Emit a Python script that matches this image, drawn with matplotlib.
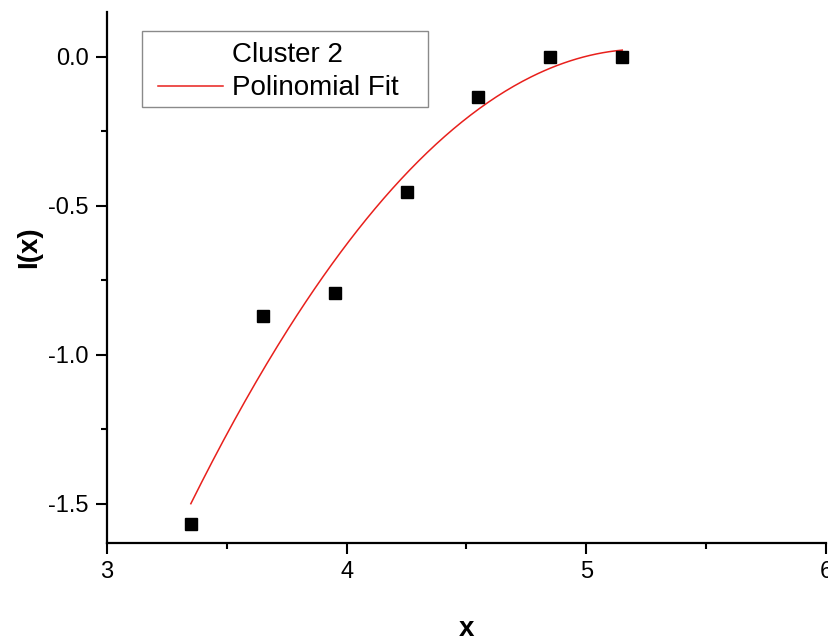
import numpy as np
import matplotlib
matplotlib.use("Agg")
import matplotlib.pyplot as plt
from matplotlib.ticker import MultipleLocator
from matplotlib.patches import Rectangle
from matplotlib.lines import Line2D

plt.rcParams['font.family'] = ['Liberation Sans', 'DejaVu Sans']

# data
x_vals = [3.35, 3.65, 3.95, 4.25, 4.55, 4.85, 5.15]
y_vals = [-1.569, -0.870, -0.792, -0.454, -0.136, 0.0, 0.0]
x_ticks = [3, 4, 5, 6]
y_ticks = [0.0, -0.5, -1.0, -1.5]
y_tick_labels = ["0.0", "-0.5", "-1.0", "-1.5"]
fit_degree = 2
series_name = "Cluster 2"
fit_name = "Polinomial Fit"

fig = plt.figure(figsize=(8.29, 6.44), dpi=100)
ax = fig.add_axes([0.129, 0.1568, 0.9964 - 0.129, 0.9814 - 0.1568])

# polynomial fit of the data
coef = np.polyfit(x_vals, y_vals, fit_degree)
xf = np.linspace(min(x_vals), max(x_vals), 200)
yf = np.polyval(coef, xf)

fit_line, = ax.plot(xf, yf, color='#e8201c', lw=1.1, zorder=2)
ax.plot(x_vals, y_vals, 's', color='black', markersize=8.5, zorder=3)

ax.set_xlim(3, 6)
ax.set_ylim(-1.632, 0.15)

ax.spines['top'].set_visible(False)
ax.spines['right'].set_visible(False)
for s in ['left', 'bottom']:
    ax.spines[s].set_linewidth(1.6)

ax.set_xticks(x_ticks)
ax.set_xticklabels([str(t) for t in x_ticks])
ax.set_yticks(y_ticks)
ax.set_yticklabels(y_tick_labels)
ax.xaxis.set_minor_locator(MultipleLocator(0.5))
ax.yaxis.set_minor_locator(MultipleLocator(0.25))
ax.tick_params(which='major', direction='out', length=8, width=1.5, labelsize=17)
ax.tick_params(which='minor', direction='out', length=4, width=1.5)
ax.tick_params(axis='x', which='major', pad=5)
ax.tick_params(axis='y', which='major', pad=5)

ax.set_xlabel('x', fontsize=20, fontweight='bold')
ax.xaxis.set_label_coords(0.5, -0.138)
ax.set_ylabel('I(x)', fontsize=20, fontweight='bold')
ax.yaxis.set_label_coords(-0.09, 0.557)

# legend frame (Origin-style box) and legend contents
frame = Rectangle((0.0483, 0.8220), 0.3978, 0.1426, transform=ax.transAxes,
                  facecolor='white', edgecolor='#8a8a8a', lw=1.0,
                  clip_on=False, zorder=4)
ax.add_patch(frame)
blank = Line2D([], [], linestyle='none', marker='none')
leg = ax.legend([blank, fit_line], [series_name, fit_name],
                loc='upper left', bbox_to_anchor=(0.0709, 0.944),
                borderaxespad=0, borderpad=0, fontsize=20,
                frameon=False, handlelength=2.35, handletextpad=0.3,
                labelspacing=0.28)
leg.set_zorder(5)

fig.savefig('out.png', dpi=100)
